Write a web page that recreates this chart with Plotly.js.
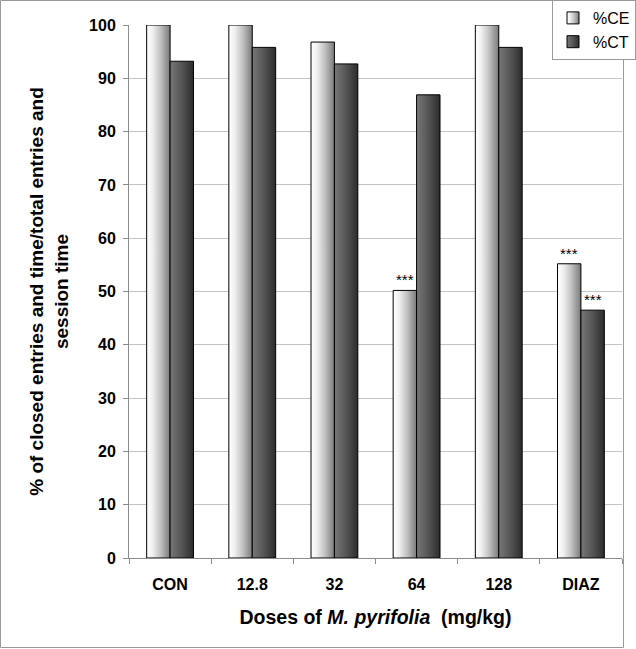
<!DOCTYPE html>
<html>
<head>
<meta charset="utf-8">
<script src="https://cdn.plot.ly/plotly-3.0.1.min.js"></script>
<style>
html,body{margin:0;padding:0;background:#fff;}
#chart{width:636px;height:649px;}
</style>
</head>
<body>
<div id="chart"></div>
<script>
// Data
const categories = ["CON", "12.8", "32", "64", "128", "DIAZ"];
const seriesCE = [100, 100, 96.8, 50.2, 100, 55.2];
const seriesCT = [93.2, 95.8, 92.7, 86.9, 95.8, 46.5];
const seriesNames = ["%CE", "%CT"];
const yTicks = [0, 10, 20, 30, 40, 50, 60, 70, 80, 90, 100];
// significance markers: [category, series index]
const sigMarks = [["64", 0], ["DIAZ", 0], ["DIAZ", 1]];

const FONT = "Arial, 'Liberation Sans', sans-serif";
const allSeries = [seriesCE, seriesCT];

const traces = allSeries.map((vals, i) => ({
  type: "bar",
  name: seriesNames[i],
  x: categories,
  y: vals,
  marker: { color: i === 0 ? "#c8c8c8" : "#505050", line: { color: "#000", width: 1 } },
  hoverinfo: "x+y+name"
}));

const barPx = 23.5;
const annotations = sigMarks.map(([cat, s]) => {
  const idx = categories.indexOf(cat);
  return {
    x: idx,
    y: allSeries[s][idx],
    xref: "x", yref: "y",
    text: "***",
    showarrow: false,
    yanchor: "bottom",
    yshift: 0,
    xshift: s === 0 ? -barPx / 2 : barPx / 2,
    font: { family: FONT, size: 15, color: "#000" }
  };
});

const L = 129, R = 622, T = 25, B = 558;
const PW = R - L, PH = B - T;

const layout = {
  width: 636, height: 649,
  margin: { l: L, r: 636 - R, t: T, b: 649 - B, autoexpand: false },
  paper_bgcolor: "#fff",
  plot_bgcolor: "#fff",
  bargap: 0.43,
  bargroupgap: 0,
  barmode: "group",
  showlegend: true,
  legend: {
    x: (636 - L) / PW, xanchor: "right",
    y: (B - 0) / PH, yanchor: "top",
    bgcolor: "#fff",
    bordercolor: "#9a9a9a",
    borderwidth: 1,
    font: { family: FONT, size: 16, color: "#000" },
    tracegroupgap: 4
  },
  xaxis: {
    type: "category",
    categoryorder: "array",
    categoryarray: categories,
    range: [-0.5, categories.length - 0.5],
    autorange: false,
    showline: true, linecolor: "#8c8c8c", linewidth: 1,
    ticks: "outside", tickson: "boundaries", ticklen: 5, tickcolor: "#8c8c8c",
    ticklabelstandoff: 12,
    showgrid: false,
    tickangle: 0,
    tickfont: { family: FONT, size: 16, color: "#000", weight: "bold" },
    title: {
      text: "Doses of <i>M. pyrifolia</i>  (mg/kg)",
      font: { family: FONT, size: 19.5, color: "#000", weight: "bold" },
      standoff: 18
    }
  },
  yaxis: {
    range: [0, 100],
    autorange: false,
    tickvals: yTicks,
    ticktext: yTicks.map(String),
    showline: true, linecolor: "#8c8c8c", linewidth: 1,
    ticks: "outside", ticklen: 5, tickcolor: "#8c8c8c",
    ticklabelstandoff: 4,
    showgrid: true, gridcolor: "#c4c4c4", gridwidth: 1,
    zeroline: false,
    tickfont: { family: FONT, size: 16, color: "#000", weight: "bold" },
    title: {
      text: "% of closed entries and time/total entries and<br>session time",
      font: { family: FONT, size: 19, color: "#000", weight: "bold" },
      standoff: 15
    }
  },
  annotations: annotations,
  shapes: [{
    type: "rect", xref: "paper", yref: "paper",
    x0: (0.5 - L) / PW, x1: (623.5 - L) / PW,
    y0: (B - 647.5) / PH, y1: (B - 0.5) / PH,
    line: { color: "#9a9a9a", width: 1 },
    fillcolor: "rgba(0,0,0,0)",
    layer: "below"
  }]
};

Plotly.newPlot("chart", traces, layout, { displayModeBar: false, staticPlot: true }).then(gd => {
  const NS = "http://www.w3.org/2000/svg";
  const svg = gd.querySelector("svg.main-svg");
  let defs = svg.querySelector("defs");
  if (!defs) { defs = document.createElementNS(NS, "defs"); svg.insertBefore(defs, svg.firstChild); }
  const grads = [
    ["gradCE", [[0, "#ffffff"], [0.25, "#f0f0f0"], [0.6, "#c0c0c0"], [1, "#7a7a7a"]]],
    ["gradCT", [[0, "#777777"], [0.5, "#555555"], [1, "#2c2c2c"]]]
  ];
  grads.forEach(([id, stops]) => {
    const lg = document.createElementNS(NS, "linearGradient");
    lg.setAttribute("id", id);
    lg.setAttribute("x1", "0"); lg.setAttribute("y1", "0");
    lg.setAttribute("x2", "1"); lg.setAttribute("y2", "0");
    stops.forEach(([o, c]) => {
      const st = document.createElementNS(NS, "stop");
      st.setAttribute("offset", o);
      st.setAttribute("stop-color", c);
      lg.appendChild(st);
    });
    defs.appendChild(lg);
  });
  const ids = ["gradCE", "gradCT"];
  gd.querySelectorAll(".barlayer .trace").forEach((t, i) => {
    t.querySelectorAll("path").forEach(p => { p.style.fill = "url(#" + ids[i] + ")"; });
  });
  gd.querySelectorAll(".legend .traces").forEach((t, i) => {
    t.querySelectorAll(".legendpoints path").forEach(p => { p.style.fill = "url(#" + ids[i] + ")"; });
  });
});
</script>
</body>
</html>
